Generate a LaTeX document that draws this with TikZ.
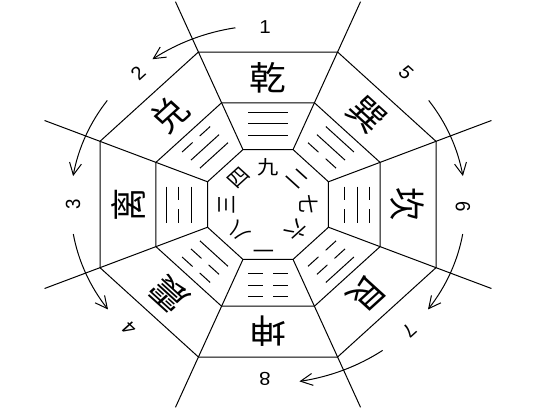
\documentclass[tikz,border=0pt]{standalone}
\usepackage{fontspec}
\setmainfont{Noto Sans CJK SC}
\newfontfamily\digitfont{Liberation Sans}

\tikzset{every picture/.style={line width=0.75pt}}
\tikzset{
  guaname/.style={inner sep=0.75pt, xscale=1.1, font=\fontsize{25}{25}\selectfont},
  innernum/.style={inner sep=0.75pt, xscale=1.1, font=\fontsize{14.5}{14.5}\selectfont},
  outernum/.style={inner sep=0.75pt, xscale=1.1, font=\digitfont\fontsize{14}{14}\selectfont}
}

\begin{document}
\begin{tikzpicture}[x=0.75pt,y=0.75pt,yscale=-1,xscale=1]
\useasboundingbox (0,0) rectangle (535,414); %diagram is 535 x 414

%Shape: Polygon [id:ds7731045529184012] 
\draw   (198.41,52) -- (337.59,52) -- (436,141.33) -- (436,267.67) -- (337.59,357) -- (198.41,357) -- (100,267.67) -- (100,141.33) -- cycle ;
%Shape: Polygon [id:ds2904618837213556] 
\draw   (221.58,102.78) -- (314.42,102.78) -- (380.06,162.37) -- (380.06,246.63) -- (314.42,306.22) -- (221.58,306.22) -- (155.94,246.63) -- (155.94,162.37) -- cycle ;
%Shape: Polygon [id:ds5518230461097783] 
\draw   (242.95,149.6) -- (293.05,149.6) -- (328.48,181.76) -- (328.48,227.24) -- (293.05,259.4) -- (242.95,259.4) -- (207.52,227.24) -- (207.52,181.76) -- cycle ;

%Straight Lines [id:da4416207391852230] 
\draw    (242.95,149.6) -- (175.45,1.67) ;
%Straight Lines [id:da8830251946617204] 
\draw    (293.05,149.6) -- (360.55,1.67) ;
%Straight Lines [id:da1297735508826641] 
\draw    (328.48,181.76) -- (491.44,120.49) ;
%Straight Lines [id:da6652093817402258] 
\draw    (328.48,227.24) -- (491.44,288.51) ;
%Straight Lines [id:da3075519920614473] 
\draw    (293.05,259.4) -- (360.55,407.33) ;
%Straight Lines [id:da9941837260153318] 
\draw    (242.95,259.4) -- (175.45,407.33) ;
%Straight Lines [id:da2268401933715540] 
\draw    (207.52,227.24) -- (44.56,288.51) ;
%Straight Lines [id:da5183960427742091] 
\draw    (207.52,181.76) -- (44.56,120.49) ;

%Straight Lines [id:da0721163948805527] qian
\draw    (248.18,112.24) -- (287.82,112.24) (248.18,123.67) -- (287.82,123.67) (248.18,135.11) -- (287.82,135.11) ;
%Straight Lines [id:da3380916452217719] xun
\draw    (353.89,151.99) -- (325.85,126.54) (344.98,160.07) -- (316.94,134.63) (336.07,168.16) -- (325.61,158.67) (318.49,152.2) -- (308.03,142.71) ;
%Straight Lines [id:da7702254118396650] kan
\draw    (369.64,186.5) -- (369.64,199.92) (369.64,209.08) -- (369.64,222.5) (357.04,186.5) -- (357.04,222.5) (344.44,186.5) -- (344.44,199.92) (344.44,209.08) -- (344.44,222.5) ;
%Straight Lines [id:da1649930287356014] gen
\draw    (353.89,257.01) -- (325.85,282.46) (344.98,248.93) -- (334.52,258.42) (327.4,264.88) -- (316.94,274.37) (336.07,240.84) -- (325.61,250.33) (318.49,256.8) -- (308.03,266.29) ;
%Straight Lines [id:da5821637409921173] kun
\draw    (248.18,296.76) -- (262.96,296.76) (273.04,296.76) -- (287.82,296.76) (248.18,285.33) -- (262.96,285.33) (273.04,285.33) -- (287.82,285.33) (248.18,273.89) -- (262.96,273.89) (273.04,273.89) -- (287.82,273.89) ;
%Straight Lines [id:da9036172248515570] zhen
\draw    (182.11,257.01) -- (192.57,266.5) (199.7,272.97) -- (210.15,282.46) (191.02,248.93) -- (201.48,258.42) (208.6,264.88) -- (219.06,274.37) (199.93,240.84) -- (227.97,266.29) ;
%Straight Lines [id:da2470318865590036] li
\draw    (166.36,186.5) -- (166.36,222.5) (178.96,186.5) -- (178.96,199.92) (178.96,209.08) -- (178.96,222.5) (191.56,186.5) -- (191.56,222.5) ;
%Straight Lines [id:da6315840772954129] dui
\draw    (182.11,151.99) -- (192.57,142.5) (199.7,136.03) -- (210.15,126.54) (191.02,160.07) -- (219.06,134.63) (199.93,168.16) -- (227.97,142.71) ;

%Curve Lines [id:da3925571804478615] 
\draw    (235.42,27.77) .. controls (205.84,32.26) and (177.79,42.81) .. (153.37,58.62) ;
\draw [shift={(153.37,58.62)}, rotate = 327.1] [line width=0.75]    (12,-6) -- (0,0) -- (12,6)   ;
%Curve Lines [id:da7119364023859940] 
\draw    (107.29,100.44) .. controls (89.88,122.6) and (78.26,148.07) .. (73.31,174.92) ;
\draw [shift={(73.31,174.92)}, rotate = 280.4] [line width=0.75]    (12,-6) -- (0,0) -- (12,6)   ;
%Curve Lines [id:da5087743216623948] 
\draw    (73.31,234.08) .. controls (78.26,260.93) and (89.88,286.4) .. (107.29,308.56) ;
\draw [shift={(107.29,308.56)}, rotate = 231.8] [line width=0.75]    (12,-6) -- (0,0) -- (12,6)   ;
%Curve Lines [id:da2656179034413306] 
\draw    (428.71,100.44) .. controls (446.12,122.6) and (457.74,148.07) .. (462.69,174.92) ;
\draw [shift={(462.69,174.92)}, rotate = 259.6] [line width=0.75]    (12,-6) -- (0,0) -- (12,6)   ;
%Curve Lines [id:da8473302659114152] 
\draw    (462.69,234.08) .. controls (457.74,260.93) and (446.12,286.4) .. (428.71,308.56) ;
\draw [shift={(428.71,308.56)}, rotate = 308.2] [line width=0.75]    (12,-6) -- (0,0) -- (12,6)   ;
%Curve Lines [id:da1160382795530446] 
\draw    (382.63,350.38) .. controls (358.21,366.19) and (330.16,376.74) .. (300.58,381.23) ;
\draw [shift={(300.58,381.23)}, rotate = 351.4] [line width=0.75]    (12,-6) -- (0,0) -- (12,6)   ;

% Text Node
\draw (268,77.92) node [guaname] (qian) {乾};
% Text Node
\draw (366.6,115) node [guaname, rotate=-45] (xun) {巽};
% Text Node
\draw (407.44,204.5) node [guaname, rotate=-90] (kan) {坎};
% Text Node
\draw (366.6,294) node [guaname, rotate=-135] (gen) {艮};
% Text Node
\draw (268,331.08) node [guaname, rotate=180] (kun) {坤};
% Text Node
\draw (169.4,294) node [guaname, rotate=135] (zhen) {震};
% Text Node
\draw (128.56,204.5) node [guaname, rotate=90] (li) {离};
% Text Node
\draw (169.4,115) node [guaname, rotate=45] (dui) {兑};

% Text Node
\draw (268,167.14) node [innernum] (jiu) {九};
% Text Node
\draw (297.1,178.08) node [innernum, rotate=-45] (er) {二};
% Text Node
\draw (309.16,204.5) node [innernum, rotate=-90] (qi) {七};
% Text Node
\draw (297.1,230.92) node [innernum, rotate=-135] (liu) {六};
% Text Node
\draw (264,248) node [innernum, rotate=180] (yi) {一};
% Text Node
\draw (238.9,230.92) node [innernum, rotate=135] (ba) {八};
% Text Node
\draw (226.84,204.5) node [innernum, rotate=90] (san) {三};
% Text Node
\draw (238.9,178.08) node [innernum, rotate=45] (si) {四};

% Text Node
\draw (265,27) node [outernum] (n1) {1};
% Text Node
\draw (138,73) node [outernum, rotate=45] (n2) {2};
% Text Node
\draw (73,204) node [outernum, rotate=90] (n3) {3};
% Text Node
\draw (129,328) node [outernum, rotate=135] (n4) {4};
% Text Node
\draw (406,73) node [outernum, rotate=-45] (n5) {5};
% Text Node
\draw (463,207) node [outernum, rotate=-90] (n6) {6};
% Text Node
\draw (409,331) node [outernum, rotate=-135] (n7) {7};
% Text Node
\draw (265,379) node [outernum, rotate=180] (n8) {8};
\end{tikzpicture}
\end{document}
